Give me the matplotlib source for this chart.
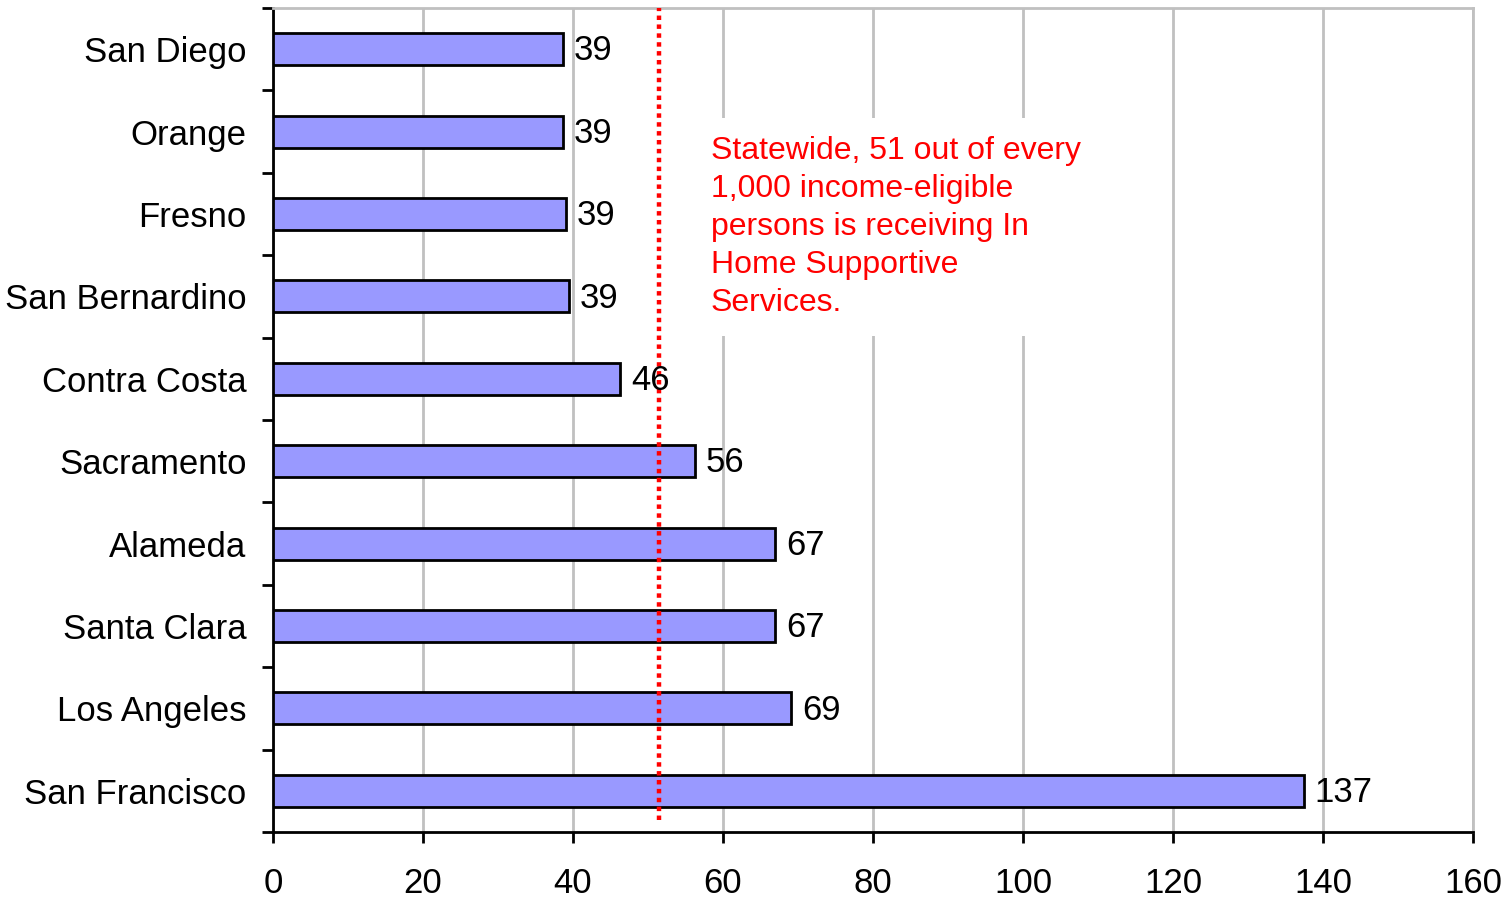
import matplotlib.pyplot as plt
import numpy as np

plt.rcParams['font.family'] = ['Liberation Sans', 'DejaVu Sans']

counties = ['San Francisco', 'Los Angeles', 'Santa Clara', 'Alameda', 'Sacramento',
            'Contra Costa', 'San Bernardino', 'Fresno', 'Orange', 'San Diego']
values = [137.4, 69, 66.9, 66.9, 56.2, 46.2, 39.4, 39, 38.6, 38.6]
labels = ['137', '69', '67', '67', '56', '46', '39', '39', '39', '39']
statewide = 51.4
note = ("Statewide, 51 out of every\n1,000 income-eligible\n"
        "persons is receiving In\nHome Supportive\nServices.")

fig = plt.figure(figsize=(15.08, 9), dpi=100)
ax = fig.add_axes([273 / 1508, 68 / 900, 1200 / 1508, 824 / 900])

y = np.arange(len(counties))
ax.barh(y, values, height=0.39, color='#9999FF', edgecolor='black', linewidth=2, zorder=3)
for yi, v, lab in zip(y, values, labels):
    ax.text(v + 1.5, yi - 0.02, lab, va='center', ha='left', fontsize=25, zorder=5)

ax.set_xlim(0, 160)
ax.set_ylim(-0.5, len(counties) - 0.5)
ax.set_xticks(np.arange(0, 161, 20))
ax.xaxis.grid(True, color='#c0c0c0', linewidth=2, zorder=0)
ax.set_axisbelow(True)

ax.set_yticks(y)
ax.set_yticklabels(counties, fontsize=25)
ax.set_yticks(np.arange(-0.5, len(counties)), minor=True)
ax.tick_params(axis='y', which='major', length=0, pad=19)
ax.tick_params(axis='y', which='minor', length=8, width=2, direction='out')
ax.tick_params(axis='x', length=8, width=2, direction='out', labelsize=25, pad=17)

ax.spines['left'].set_linewidth(2)
ax.spines['bottom'].set_linewidth(2)
ax.spines['top'].set_color('#c0c0c0')
ax.spines['right'].set_color('#c0c0c0')
ax.spines['top'].set_linewidth(2)
ax.spines['right'].set_linewidth(2)

ax.plot([statewide, statewide], [-0.36, 9.5], color='red', linewidth=3.2,
        linestyle=(0, (1, 1)), zorder=4, clip_on=False)

ax.text(58.4, 7.95, note, color='red', fontsize=23, va='top', ha='left', linespacing=1.35,
        zorder=4, bbox=dict(facecolor='white', edgecolor='none', pad=13))

fig.savefig('out.png', dpi=100)
